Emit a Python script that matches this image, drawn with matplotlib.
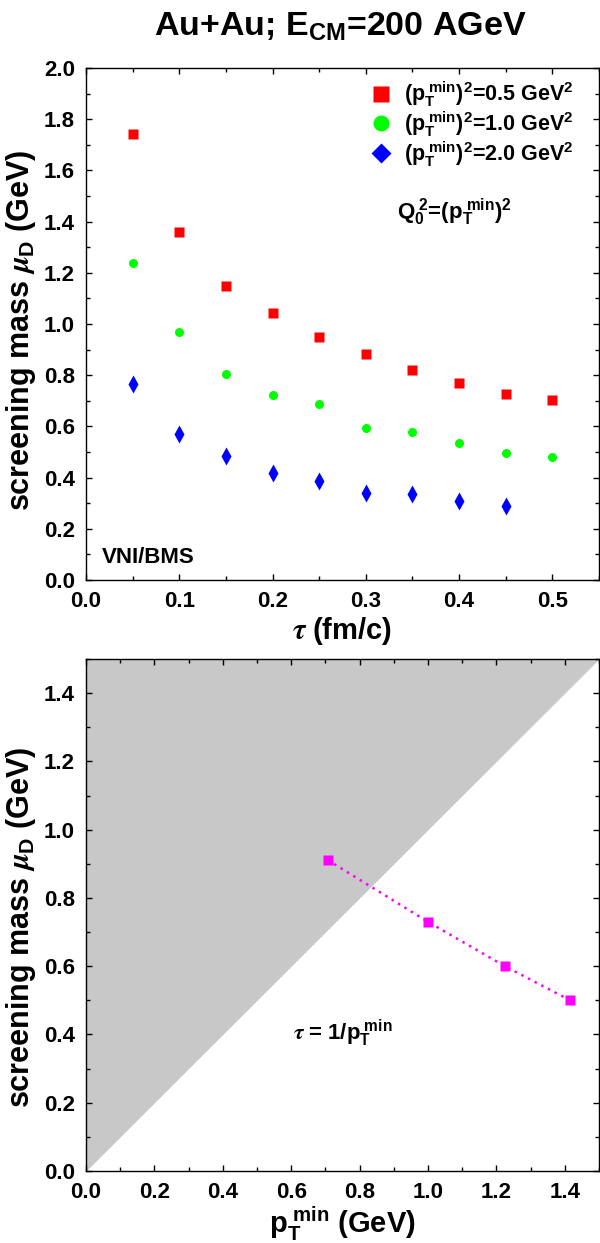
import matplotlib
matplotlib.use('Agg')
import matplotlib.pyplot as plt
from matplotlib.lines import Line2D
from matplotlib.ticker import MultipleLocator

plt.rcParams['font.family'] = ['Liberation Sans', 'DejaVu Sans']
plt.rcParams['font.weight'] = 'bold'
plt.rcParams['mathtext.fontset'] = 'stix'
plt.rcParams['mathtext.default'] = 'regular'

# top panel: screening mass vs tau
tau = [0.05, 0.10, 0.15, 0.20, 0.25, 0.30, 0.35, 0.40, 0.45, 0.50]
mu_05 = [1.742, 1.359, 1.148, 1.043, 0.949, 0.883, 0.820, 0.770, 0.727, 0.703]
mu_10 = [1.240, 0.967, 0.803, 0.724, 0.686, 0.592, 0.577, 0.534, 0.497, 0.482]
tau_20 = [0.05, 0.10, 0.15, 0.20, 0.25, 0.30, 0.35, 0.40, 0.45]
mu_20 = [0.766, 0.570, 0.486, 0.417, 0.387, 0.341, 0.337, 0.309, 0.289]

# bottom panel: screening mass vs pT_min
ptmin = [0.707, 1.000, 1.225, 1.414]
mu_pt = [0.911, 0.730, 0.600, 0.501]

labels = [r'$(p_T^{\ min})^2$=0.5 GeV$^2$',
          r'$(p_T^{\ min})^2$=1.0 GeV$^2$',
          r'$(p_T^{\ min})^2$=2.0 GeV$^2$']

fig = plt.figure(figsize=(6.0, 12.43), dpi=100)
ax1 = fig.add_axes([0.1433, 0.5334, 0.855, 0.4119])
ax2 = fig.add_axes([0.1433, 0.0579, 0.855, 0.4119])

ax1.plot(tau, mu_05, 's', color='#ff0000', ms=7, mec='none')
ax1.plot(tau, mu_10, 'o', color='#00ff00', ms=6.5, mec='none')
ax1.plot(tau_20, mu_20, 'd', color='#0000ff', ms=9, mec='none')

handles = [Line2D([], [], ls='none', marker='s', color='#ff0000', ms=11.5, mec='none'),
           Line2D([], [], ls='none', marker='o', color='#00ff00', ms=11.5, mec='none'),
           Line2D([], [], ls='none', marker='D', color='#0000ff', ms=10, mec='none')]
ax1.legend(handles, labels, loc='upper left', bbox_to_anchor=(0.555, 0.977),
           frameon=False, fontsize=15.5, handletextpad=0.55, labelspacing=0.0,
           borderpad=0, borderaxespad=0, handlelength=1.0)

ax1.text(0.395, 1.437, r'$Q_0^{\ 2}$=$(p_T^{\ min})^2$', ha='center', va='center',
         fontsize=16, fontweight='bold')
ax1.text(0.017, 0.086, 'VNI/BMS', ha='left', va='center', fontsize=16,
         fontweight='bold')

ax1.set_xlim(0, 0.55)
ax1.set_ylim(0, 2.0)
ax1.xaxis.set_major_locator(MultipleLocator(0.1))
ax1.xaxis.set_minor_locator(MultipleLocator(0.05))
ax1.yaxis.set_major_locator(MultipleLocator(0.2))
ax1.yaxis.set_minor_locator(MultipleLocator(0.1))
ax1.set_xticks([0, 0.1, 0.2, 0.3, 0.4, 0.5])
ax1.set_xlabel(r'$\mathit{\tau}$ (fm/c)', fontsize=21, fontweight='bold')
ax1.set_ylabel(r'screening mass $\mathit{\mu}_D$ (GeV)', fontsize=22,
               fontweight='bold')
ax1.xaxis.set_label_coords(0.5, -0.068)
ax1.yaxis.set_label_coords(-0.094, 0.488)

fig.text(0.567, 1 - 36 / 1243, r'Au+Au; E$_{CM}$=200 AGeV', ha='center',
         va='baseline', fontsize=24.5, fontweight='bold')

ax2.fill_between([0, 1.5], [0, 1.5], [1.5, 1.5], color='#c8c8c8', lw=0)
ax2.plot(ptmin, mu_pt, color='#ff00ff', lw=1.8, ls=(0, (1, 2)))
ax2.plot(ptmin, mu_pt, 's', color='#ff00ff', ms=7, mec='none')
ax2.text(0.605, 0.404, r'$\mathit{\tau}$ = 1/$p_T^{\ min}$', ha='left', va='center',
         fontsize=16, fontweight='bold')

ax2.set_xlim(0, 1.5)
ax2.set_ylim(0, 1.5)
ax2.xaxis.set_major_locator(MultipleLocator(0.2))
ax2.xaxis.set_minor_locator(MultipleLocator(0.1))
ax2.yaxis.set_major_locator(MultipleLocator(0.2))
ax2.yaxis.set_minor_locator(MultipleLocator(0.1))
ax2.set_xticks([0, 0.2, 0.4, 0.6, 0.8, 1.0, 1.2, 1.4])
ax2.set_yticks([0, 0.2, 0.4, 0.6, 0.8, 1.0, 1.2, 1.4])
ax2.set_xlabel(r'$p_T^{\ min}$ (GeV)', fontsize=21, fontweight='bold')
ax2.set_ylabel(r'screening mass $\mathit{\mu}_D$ (GeV)', fontsize=22,
               fontweight='bold')
ax2.xaxis.set_label_coords(0.5, -0.066)
ax2.yaxis.set_label_coords(-0.094, 0.477)

for ax in (ax1, ax2):
    ax.tick_params(which='both', direction='in', top=True, right=True,
                   labelsize=16, width=1)
    ax.tick_params(axis='x', which='both', pad=8)
    ax.tick_params(axis='y', which='both', pad=8)
    ax.tick_params(which='major', length=4.5)
    ax.tick_params(which='minor', length=3)
    for lab in ax.get_xticklabels() + ax.get_yticklabels():
        lab.set_fontweight('bold')
    for sp in ax.spines.values():
        sp.set_linewidth(1.0)

fig.savefig('out.png', dpi=100)
